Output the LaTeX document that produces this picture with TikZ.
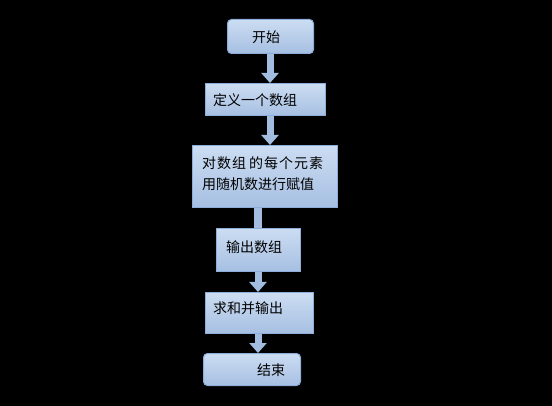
\documentclass[tikz,border=0pt]{standalone}
\usepackage{fontspec}
\newfontfamily\cjk{Noto Sans CJK SC}
\usetikzlibrary{arrows.meta}
\definecolor{boxtop}{HTML}{CCDDF2}
\definecolor{boxbot}{HTML}{A6BFE2}
\definecolor{boxline}{HTML}{8DAEDA}
\definecolor{arrowcol}{HTML}{A3BDE0}
\begin{document}
\begin{tikzpicture}[x=1pt,y=-1pt,
  box/.style={draw=boxline, line width=1pt, top color=boxtop, bottom color=boxbot, anchor=north west, inner sep=0pt},
  rbox/.style={box, rounded corners=4pt},
  txt/.style={font=\cjk\fontsize{14}{20}\selectfont, inner sep=0pt, text=black},
  flow/.style={draw=arrowcol, line width=7pt, -{Triangle[width=17pt,length=10pt]}},
  shaft/.style={draw=arrowcol, line width=8pt}
]
\useasboundingbox (0,0) rectangle (552,406);
\fill[black] (0,0) rectangle (552,406);

\node[rbox, minimum width=86pt, minimum height=34pt] (b1) at (227,19) {};
\node[box, minimum width=120pt, minimum height=32pt] (b2) at (205,83) {};
\node[box, minimum width=145pt, minimum height=62pt] (b3) at (192,145) {};
\node[box, minimum width=84pt, minimum height=43pt] (b4) at (216,228) {};
\node[box, minimum width=108pt, minimum height=41pt] (b5) at (205,292) {};
\node[rbox, minimum width=97pt, minimum height=32pt] (b6) at (203,353) {};

\node[txt, anchor=west] (t1) at (252,37) {开始};
\node[txt, anchor=west] (t2) at (213,100) {定义一个数组};
\node[txt, anchor=west] (t3a) at (202,163) {\makebox[121pt][s]{对\hfill 数\hfill 组\hfill\hspace{2pt}的\hfill 每\hfill 个\hfill 元\hfill 素}};
\node[txt, anchor=west] (t3b) at (202,184) {用随机数进行赋值};
\node[txt, anchor=west] (t4) at (226,247) {输出数组};
\node[txt, anchor=west] (t5) at (213,308) {求和并输出};
\node[txt, anchor=west] (t6) at (257,370) {结束};

\coordinate (c12) at ([xshift=-0.5pt]b1.south);
\draw[flow] (c12) -- (c12 |- b2.north);
\draw[flow] (c12 |- b2.south) -- (c12 |- b3.north);
\coordinate (c34) at (258,0);
\draw[shaft] (c34 |- b3.south) -- (c34 |- b4.north);
\draw[flow] (c34 |- b4.south) -- (c34 |- b5.north);
\draw[flow] (c34 |- b5.south) -- (c34 |- b6.north);
\end{tikzpicture}
\end{document}
